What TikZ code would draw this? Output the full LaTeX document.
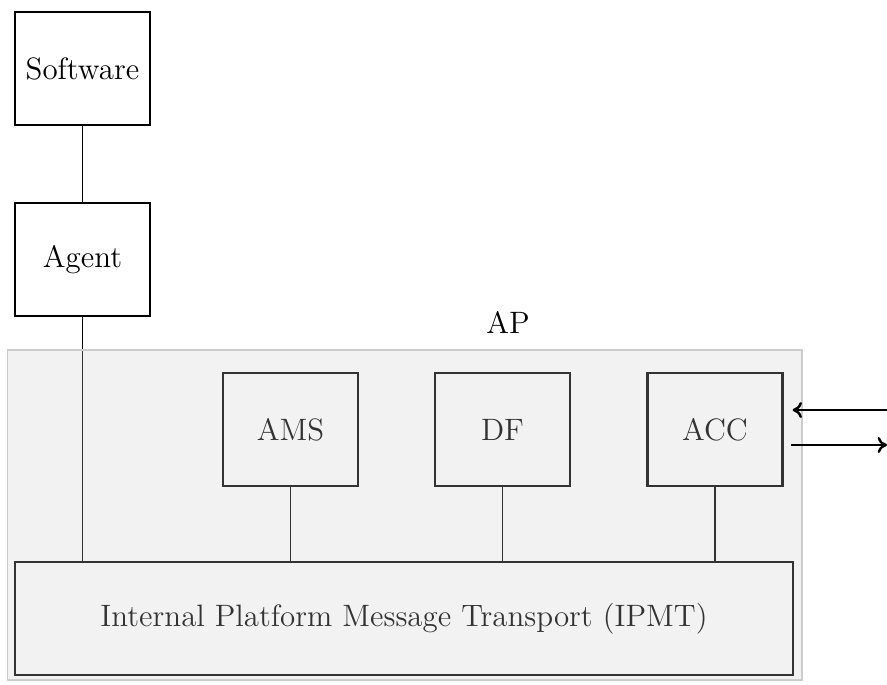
\documentclass[tikz,border=0pt]{standalone}
\usetikzlibrary{arrows.meta}
\begin{document}
\begin{tikzpicture}[x=0.375pt,y=-0.375pt,
  txt/.style={font=\fontsize{11.6}{14}\selectfont},
  box/.style={txt,draw=black,line width=0.8pt,minimum width=50.6pt,minimum height=42.4pt,inner sep=0pt},
  wire/.style={draw=black,line width=0.4pt},
  flow/.style={draw=black,line width=0.9pt,-{To[length=3.5pt,width=6pt]}},
  apzone/.style={draw=black!20,line width=0.4pt,fill=black!20,fill opacity=0.25,draw opacity=1,inner sep=0pt,minimum width=298.1pt,minimum height=123.75pt}]
\useasboundingbox (0,0) rectangle (887,684);
\node[box] (sw) at (82.5,68.5) {Software};
\node[box] (ag) at (82.5,259.5) {Agent};
\node[box] (ams) at (290.5,429.5) {AMS};
\node[box] (df) at (502.5,429.5) {DF};
\node[box] (acc) at (715,429.5) {ACC};
\node[box,minimum width=291.75pt] (ipmt) at (404,618.5) {Internal Platform Message Transport (IPMT)};
\draw[wire] (sw) -- (ag);
\draw[wire] (ag.south) -- (ag.south |- ipmt.north);
\draw[wire] (ams.south) -- (ams.south |- ipmt.north);
\draw[wire] (df.south) -- (df.south |- ipmt.north);
\draw[wire] (acc.south) -- (acc.south |- ipmt.north);
\node[apzone] (ap) at (404.5,515) {};
\node[txt] (aplabel) at (508,322) {AP};
\coordinate (ein) at (887,410);
\coordinate (eout) at (887,445);
\draw[flow] (ein) -- ([xshift=3.4pt]acc.east |- ein);
\draw[flow] ([xshift=2.8pt]acc.east |- eout) -- (eout);
\end{tikzpicture}
\end{document}
